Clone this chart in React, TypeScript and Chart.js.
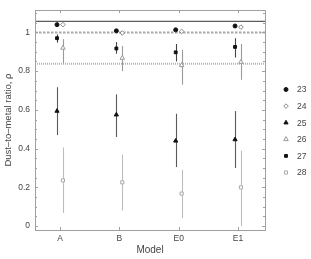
import React, { useEffect, useRef } from "react";
import { Chart, registerables } from "chart.js";
import { drawPoint } from "chart.js/helpers";

Chart.register(...registerables);

// ---- data ----
const categories = ["A", "B", "E0", "E1"];
const seriesNames = ["23", "24", "25", "26", "27", "28"];

const values23 = [1.04, 1.008, 1.013, 1.033];
const values24 = [1.04, 0.997, 1.005, 1.027];
const values25 = [0.594, 0.575, 0.44, 0.447];
const values26 = [0.92, 0.868, 0.83, 0.847];
const values27 = [0.97, 0.917, 0.897, 0.925];
const values28 = [0.236, 0.226, 0.168, 0.2];

const low25 = [0.47, 0.46, 0.305, 0.3];
const high25 = [0.717, 0.68, 0.58, 0.594];
const low26 = [0.84, 0.8, 0.73, 0.755];
const high26 = [0.965, 0.93, 0.91, 0.94];
const low27 = [0.947, 0.89, 0.85, 0.87];
const high27 = [0.99, 0.95, 0.94, 0.97];
const low28 = [0.068, 0.08, 0.04, 0.0];
const high28 = [0.406, 0.37, 0.29, 0.39];

const refSolid = 1.057;
const refDashed = 1.0;
const refDotted = 0.838;

const yMajorTicks = [0, 0.2, 0.4, 0.6, 0.8, 1];
const yMinorStep = 0.05;

// ---- styles ----
const FILLED_OFF = -0.05;
const OPEN_OFF = 0.05;
const TEXT = "#444";
const FONT = "'Liberation Sans', Arial, sans-serif";

const seriesStyles = [
  { style: "circle", radius: 2, fill: "#111", border: "#111", bw: 1, off: FILLED_OFF, err: "#555" },
  { style: "rectRot", radius: 2.3, fill: "#fff", border: "#888", bw: 1, off: OPEN_OFF, err: "#999" },
  { style: "triangle", radius: 2.4, fill: "#111", border: "#111", bw: 1, off: FILLED_OFF, err: "#5a5a5a" },
  { style: "triangle", radius: 2.6, fill: "#fff", border: "#999", bw: 1, off: OPEN_OFF, err: "#9a9a9a" },
  { style: "rect", radius: 2, fill: "#111", border: "#111", bw: 1, off: FILLED_OFF, err: "#444" },
  { style: "rect", radius: 2.2, fill: "#fff", border: "#aaa", bw: 1, off: OPEN_OFF, err: "#bdbdbd" },
];

const seriesValues = [values23, values24, values25, values26, values27, values28];
const seriesLow: (number[] | null)[] = [null, null, low25, low26, low27, low28];
const seriesHigh: (number[] | null)[] = [null, null, high25, high26, high27, high28];

const framePlugin = {
  id: "frameRefErr",
  beforeDatasetsDraw(chart: any) {
    const { ctx, chartArea: a, scales } = chart;
    const x = scales.x;
    const y = scales.y;
    ctx.save();
    const drawH = (v: number, color: string, w: number, dash: number[]) => {
      const py = y.getPixelForValue(v);
      ctx.beginPath();
      ctx.setLineDash(dash);
      ctx.strokeStyle = color;
      ctx.lineWidth = w;
      ctx.moveTo(a.left, py);
      ctx.lineTo(a.right, py);
      ctx.stroke();
    };
    drawH(refSolid, "#5c5c5c", 1.4, []);
    drawH(refDashed, "#a8a8a8", 2, [2.5, 1.5]);
    drawH(refDotted, "#b4b4b4", 2, [1, 1]);
    ctx.setLineDash([]);
    chart.data.datasets.forEach((ds: any) => {
      if (!ds.errLow) return;
      ctx.strokeStyle = ds.errColor;
      ctx.lineWidth = 1.1;
      ds.data.forEach((p: any, i: number) => {
        const px = Math.round(x.getPixelForValue(p.x)) + 0.5;
        ctx.beginPath();
        ctx.moveTo(px, y.getPixelForValue(ds.errLow[i]));
        ctx.lineTo(px, y.getPixelForValue(ds.errHigh[i]));
        ctx.stroke();
      });
    });
    ctx.strokeStyle = "#a0a0a0";
    ctx.lineWidth = 1;
    ctx.strokeRect(Math.round(a.left) + 0.5, Math.round(a.top) + 0.5, Math.round(a.right - a.left), Math.round(a.bottom - a.top));
    ctx.beginPath();
    y.ticks.forEach((t: any) => {
      const py = Math.round(y.getPixelForValue(t.value)) + 0.5;
      const isMajor = yMajorTicks.some((m) => Math.abs(m - t.value) < 1e-6);
      const len = isMajor ? 3 : 2;
      ctx.moveTo(a.left, py);
      ctx.lineTo(a.left + len, py);
      ctx.moveTo(a.right, py);
      ctx.lineTo(a.right - len, py);
    });
    x.ticks.forEach((t: any) => {
      const px = Math.round(x.getPixelForValue(t.value)) + 0.5;
      ctx.moveTo(px, a.bottom);
      ctx.lineTo(px, a.bottom - 3);
      ctx.moveTo(px, a.top);
      ctx.lineTo(px, a.top + 3);
    });
    ctx.stroke();
    ctx.restore();
  },
  afterDraw(chart: any) {
    const { ctx } = chart;
    ctx.save();
    const x0 = 286;
    const y0 = 89.5;
    const step = 16.6;
    ctx.font = `8.5px ${FONT}`;
    ctx.textBaseline = "middle";
    ctx.textAlign = "left";
    seriesNames.forEach((name, i) => {
      const s = seriesStyles[i];
      const py = y0 + i * step;
      ctx.fillStyle = s.fill;
      ctx.strokeStyle = s.border;
      ctx.lineWidth = s.bw;
      drawPoint(ctx, { pointStyle: s.style, radius: s.radius, borderWidth: s.bw, rotation: 0 } as any, x0, py);
      ctx.fillStyle = TEXT;
      ctx.fillText(name, x0 + 11, py + 0.5);
    });
    ctx.restore();
  },
};

export default function App() {
  const ref = useRef<HTMLCanvasElement | null>(null);

  useEffect(() => {
    document.body.style.margin = "0";
    const canvas = ref.current;
    if (!canvas) return;

    const datasets = seriesNames.map((name, si) => {
      const s = seriesStyles[si];
      return {
        label: name,
        data: seriesValues[si].map((v, i) => ({ x: i + 1 + s.off, y: v })),
        pointStyle: s.style,
        pointRadius: s.radius,
        pointBackgroundColor: s.fill,
        pointBorderColor: s.border,
        pointBorderWidth: s.bw,
        backgroundColor: s.fill,
        borderColor: s.border,
        showLine: false,
        errLow: seriesLow[si],
        errHigh: seriesHigh[si],
        errColor: s.err,
      } as any;
    });

    const chart = new Chart(canvas, {
      type: "scatter",
      data: { datasets },
      options: {
        animation: false,
        responsive: false,
        layout: { padding: { left: 0, top: 3, right: 46, bottom: 0 } },
        plugins: { legend: { display: false }, tooltip: { enabled: false } },
        scales: {
          x: {
            type: "linear",
            min: 0.579,
            max: 4.455,
            grid: { display: false, drawTicks: false },
            border: { display: false },
            afterBuildTicks: (scale: any) => {
              scale.ticks = categories.map((_, i) => ({ value: i + 1 }));
            },
            afterFit: (scale: any) => {
              scale.height = 29;
            },
            ticks: {
              padding: 4,
              color: TEXT,
              font: { family: FONT, size: 8.5 },
              callback: (v: any) => categories[Math.round(Number(v)) - 1] ?? "",
              maxRotation: 0,
              autoSkip: false,
            },
            title: {
              display: true,
              text: "Model",
              color: TEXT,
              font: { family: FONT, size: 10 },
              padding: { top: 0, bottom: 3 },
            },
          },
          y: {
            type: "linear",
            min: -0.02,
            max: 1.115,
            grid: { display: false, drawTicks: false },
            border: { display: false },
            afterBuildTicks: (scale: any) => {
              const t: any[] = [];
              for (let k = 0; k * yMinorStep <= 1.1 + 1e-9; k++) {
                t.push({ value: Math.round(k * yMinorStep * 100) / 100 });
              }
              scale.ticks = t;
            },
            afterFit: (scale: any) => {
              scale.width = 35;
            },
            ticks: {
              padding: 5,
              color: TEXT,
              font: { family: FONT, size: 8.5 },
              autoSkip: false,
              callback: (v: any) => {
                const n = Number(v);
                return yMajorTicks.some((m) => Math.abs(m - n) < 1e-6) ? String(n) : "";
              },
            },
            title: {
              display: true,
              text: "Dust–to–metal ratio, ρ",
              color: TEXT,
              font: { family: FONT, size: 9.5 },
              padding: { top: 3, bottom: 0 },
            },
          },
        },
      },
      plugins: [framePlugin],
    });

    return () => chart.destroy();
  }, []);

  return (
    <div style={{ position: "fixed", left: 0, top: 0, width: 311, height: 259, background: "#fff" }}>
      <canvas ref={ref} width={311} height={259} style={{ display: "block", width: 311, height: 259 }} />
    </div>
  );
}
